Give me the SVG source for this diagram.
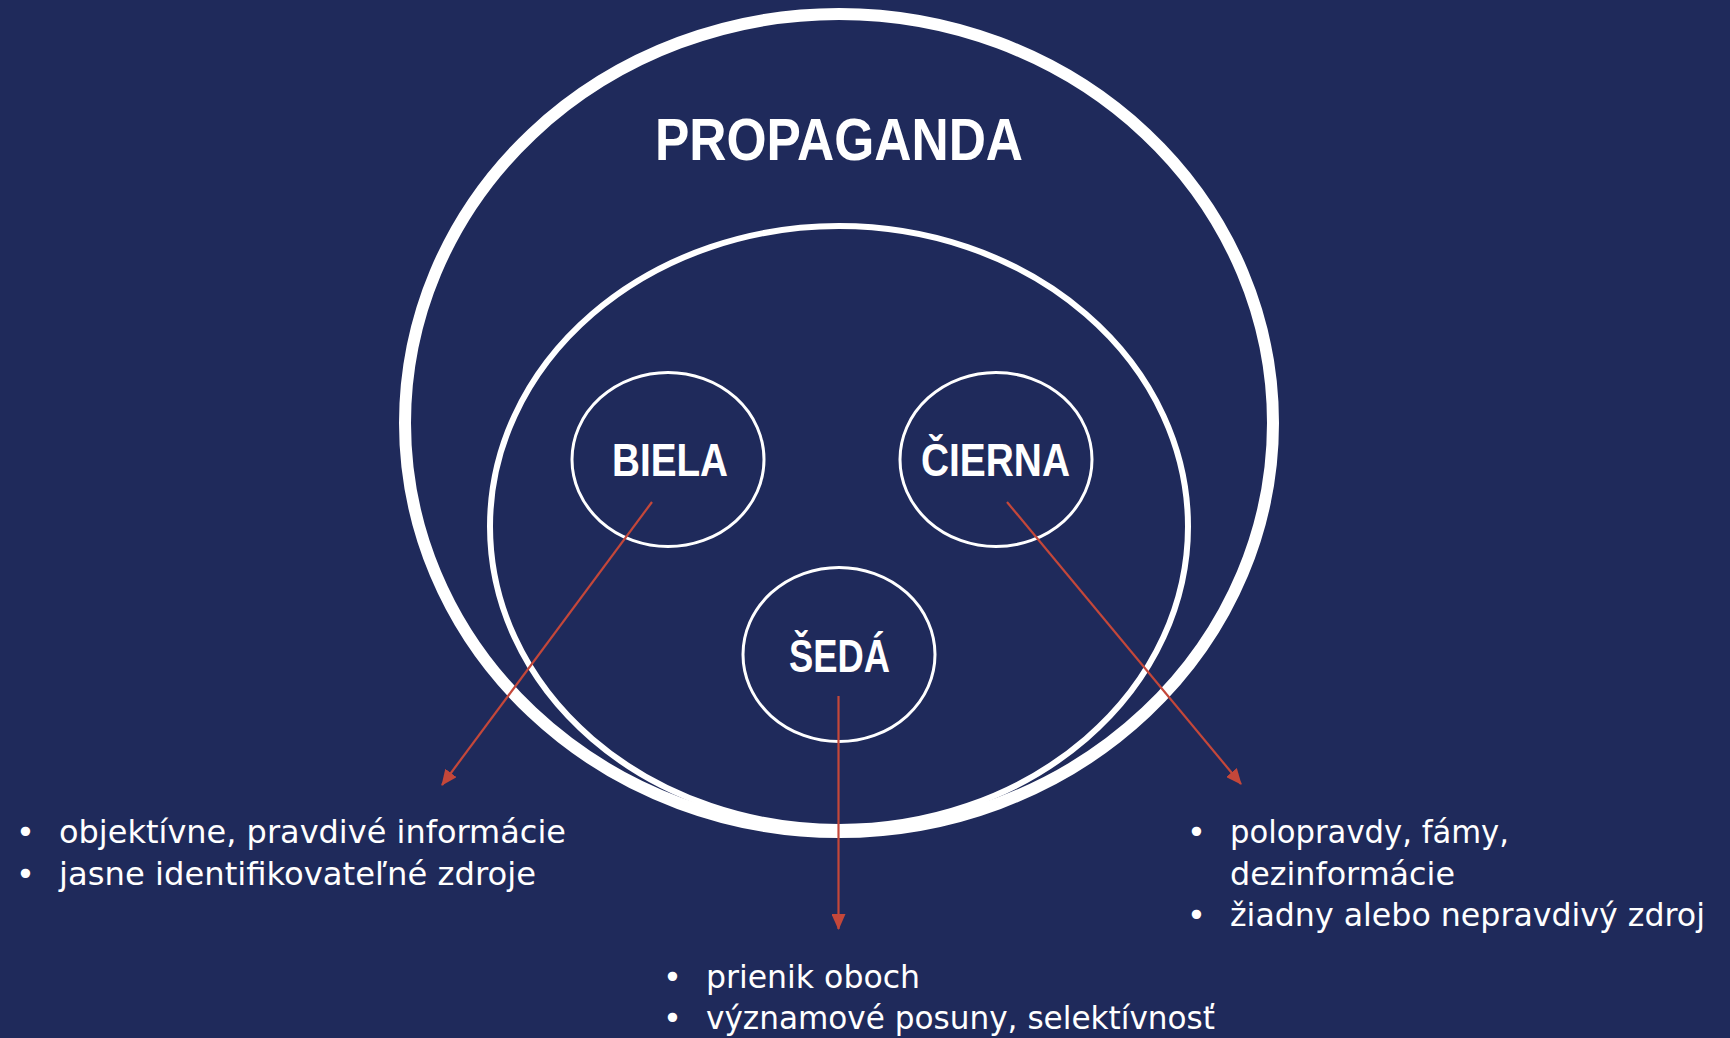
<svg xmlns="http://www.w3.org/2000/svg" width="1730" height="1038" viewBox="0 0 1730 1038">
<style>
.ring{fill:none;stroke:#ffffff}
.head{fill:#ffffff;font-family:"Liberation Sans",Arial,sans-serif;font-weight:bold;text-anchor:middle}
.body{fill:#ffffff;font-family:"DejaVu Sans","Liberation Sans",sans-serif;font-size:32px}
.conn{stroke:#c4473a;stroke-width:2.2;fill:none}
</style>
<defs>
<marker id="ah" viewBox="0 0 16 14" markerWidth="16" markerHeight="14" refX="15" refY="7" orient="auto" markerUnits="userSpaceOnUse">
<path d="M0,0 L16,7 L0,14 z" fill="#c4473a"/>
</marker>
</defs>
<rect width="1730" height="1038" fill="#1f2a5b"/>
<g id="propaganda">
<ellipse class="ring" cx="839" cy="423" rx="434" ry="409" stroke-width="12"/>
<text class="head" x="839" y="160" font-size="60" textLength="368" lengthAdjust="spacingAndGlyphs">PROPAGANDA</text>
</g>
<g id="inner">
<ellipse class="ring" cx="839" cy="526.5" rx="349" ry="300.5" stroke-width="6"/>
</g>
<g id="biela">
<ellipse class="ring" cx="668" cy="459.5" rx="96" ry="87" stroke-width="3"/>
<text class="head" x="670" y="476" font-size="46" textLength="116" lengthAdjust="spacingAndGlyphs">BIELA</text>
</g>
<g id="cierna">
<ellipse class="ring" cx="996" cy="459.5" rx="96" ry="87" stroke-width="3"/>
<text class="head" x="995.5" y="476" font-size="46" textLength="149" lengthAdjust="spacingAndGlyphs">ČIERNA</text>
</g>
<g id="seda">
<ellipse class="ring" cx="839" cy="654.5" rx="96" ry="87" stroke-width="3"/>
<text class="head" x="839.5" y="672" font-size="46" textLength="101" lengthAdjust="spacingAndGlyphs">ŠEDÁ</text>
</g>
<g id="connectors">
<line class="conn" x1="652" y1="502" x2="442" y2="785" marker-end="url(#ah)"/>
<line class="conn" x1="1007" y1="502" x2="1241" y2="784" marker-end="url(#ah)"/>
<line class="conn" x1="838.5" y1="696" x2="838.5" y2="929" marker-end="url(#ah)"/>
</g>
<g id="list-biela">
<text class="body" x="16" y="843">•</text>
<text class="body" x="59" y="843" textLength="507" lengthAdjust="spacingAndGlyphs">objektívne, pravdivé informácie</text>
<text class="body" x="16" y="885">•</text>
<text class="body" x="59" y="885" textLength="477" lengthAdjust="spacingAndGlyphs">jasne identifikovateľné zdroje</text>
</g>
<g id="list-cierna">
<text class="body" x="1187" y="843">•</text>
<text class="body" x="1230" y="843" textLength="279" lengthAdjust="spacingAndGlyphs">polopravdy, fámy,</text>
<text class="body" x="1230" y="885" textLength="225" lengthAdjust="spacingAndGlyphs">dezinformácie</text>
<text class="body" x="1187" y="926">•</text>
<text class="body" x="1230" y="926" textLength="475" lengthAdjust="spacingAndGlyphs">žiadny alebo nepravdivý zdroj</text>
</g>
<g id="list-seda">
<text class="body" x="663" y="988">•</text>
<text class="body" x="706" y="988" textLength="214" lengthAdjust="spacingAndGlyphs">prienik oboch</text>
<text class="body" x="663" y="1029">•</text>
<text class="body" x="706" y="1029" textLength="509" lengthAdjust="spacingAndGlyphs">významové posuny, selektívnosť</text>
</g>
</svg>
